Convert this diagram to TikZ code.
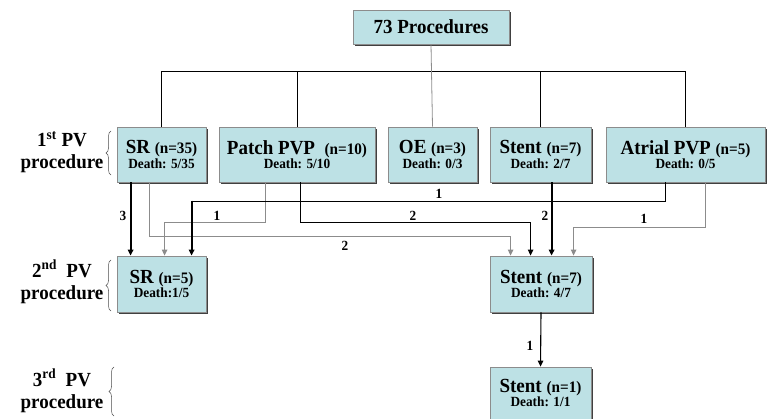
\documentclass[tikz,border=0pt]{standalone}
\usepackage{fontspec}
\setmainfont{Liberation Serif}[FakeStretch=0.95]
\usetikzlibrary{shadows,decorations.pathreplacing,arrows.meta}
\definecolor{boxfill}{HTML}{BDE1E5}
\definecolor{lgray}{HTML}{8C8C8C}
\newcommand{\szA}{\fontsize{20}{22}\selectfont}
\newcommand{\szB}{\fontsize{16}{18}\selectfont}
\newcommand{\szC}{\fontsize{14}{16}\selectfont}
\begin{document}
\begin{tikzpicture}[x=1pt,y=-1pt,font=\bfseries,
  pbox/.style={draw=lgray, line width=0.8pt, fill=boxfill, minimum width=#1, minimum height=55pt,
    inner sep=0pt, align=center,
    drop shadow={shadow xshift=1.6pt, shadow yshift=-1.6pt, fill=black!75, opacity=1}},
  blackline/.style={draw=black, line width=1.1pt},
  grayline/.style={draw=lgray, line width=1.1pt},
  thickline/.style={draw=black, line width=2.2pt},
  arr/.style={-{Triangle[length=6pt,width=5.5pt]}},
  num/.style={font=\bfseries\szC, inner sep=0pt},
  lvl/.style={font=\bfseries\szA, align=center, inner sep=0pt},
  brc/.style={draw=black!70, line width=0.5pt, decorate, decoration={brace, amplitude=5pt}}]
\useasboundingbox (0,0) rectangle (767,419);

% boxes
\node[pbox=156pt, minimum height=34pt] (top) at (431,27) {\szA 73 Procedures};
\node[pbox=89pt] (sr1) at (161.5,154.5) {\szA SR \szB(n=35)\\[0pt]\szC Death: 5/35};
\node[pbox=156pt] (patch) at (297,154.5) {\szA Patch PVP \ \szB(n=10)\\[0pt]\szC Death: 5/10};
\node[pbox=89pt] (oe) at (432.5,154.5) {\szA OE \szB(n=3)\\[0pt]\szC Death: 0/3};
\node[pbox=101pt] (stent1) at (540.5,154.5) {\szA Stent \szB(n=7)\\[0pt]\szC Death: 2/7};
\node[pbox=159pt] (atrial) at (685.5,154.5) {\szA Atrial PVP \szB(n=5)\\[0pt]\szC Death: 0/5};
\node[pbox=89pt, minimum height=56pt] (sr2) at (161.5,284) {\szA SR \szB(n=5)\\[0pt]\szC Death:1/5};
\node[pbox=102pt, minimum height=56pt] (stent2) at (541,284) {\szA Stent \szB(n=7)\\[0pt]\szC Death: 4/7};
\node[pbox=101pt, minimum height=52pt] (stent3) at (540.5,393) {\szA Stent \szB(n=1)\\[0pt]\szC Death: 1/1};

% level labels
\node[lvl] (l1) at (62,152) {1\textsuperscript{st} PV\\procedure};
\node[lvl] (l2) at (62,282) {2\textsuperscript{nd}\ \ PV\\procedure};
\node[lvl] (l3) at (62,391) {3\textsuperscript{rd}\ \ PV\\procedure};
\draw[brc] (111,175) -- (111,131);
\draw[brc] (111,311) -- (111,260);
\draw[brc] (114,416) -- (114,367);

% top tree
\path (sr1.north) ++(0,-55) coordinate (busL);
\draw[blackline, line width=1pt] (sr1.north) -- (busL) -| (atrial.north);
\draw[blackline, line width=1pt] (patch.north) -- (patch.north |- busL);
\draw[blackline, line width=1pt] (stent1.north) -- (stent1.north |- busL);
\draw[draw=lgray, line width=0.8pt] (top.south) -- (oe.north);

% connectors between levels
\draw[grayline, arr] ([xshift=33pt]sr1.south west) -- ++(0,54) -| ([xshift=21pt]stent2.north west);
\draw[grayline, arr] ([xshift=47pt]patch.south west) -- ++(0,40) -| ([xshift=48pt]sr2.north west);
\draw[blackline, arr] ([xshift=82pt]patch.south west) -- ++(0,40) -| ([xshift=41pt]stent2.north west);
\draw[grayline, arr] ([xshift=100pt]atrial.south west) -- ++(0,45) -| ([xshift=84pt]stent2.north west);
\draw[blackline] ([xshift=60pt]atrial.south west) -- ++(0,19) -| ([xshift=75pt,yshift=55pt]sr2.north west);
\draw[thickline, arr] ([xshift=75pt,yshift=55pt]sr2.north west) -- ([xshift=75pt]sr2.north west);
\draw[thickline, arr] ([xshift=14pt]sr1.south west) -- ([xshift=14pt]sr2.north west);
\draw[thickline, arr] ([xshift=62pt]stent1.south west) -- ([xshift=62pt]stent2.north west);
\draw[blackline, arr] (stent2.south) -- (stent3.north);

% numbers
\node[num] (n1) at (123,216) {3};
\node[num] (n2) at (217,216) {1};
\node[num] (n3) at (345,246) {2};
\node[num] (n4) at (413,216) {2};
\node[num] (n5) at (439,194) {1};
\node[num] (n6) at (545,216) {2};
\node[num] (n7) at (644,219) {1};
\node[num] (n8) at (530,346) {1};
\end{tikzpicture}
\end{document}
